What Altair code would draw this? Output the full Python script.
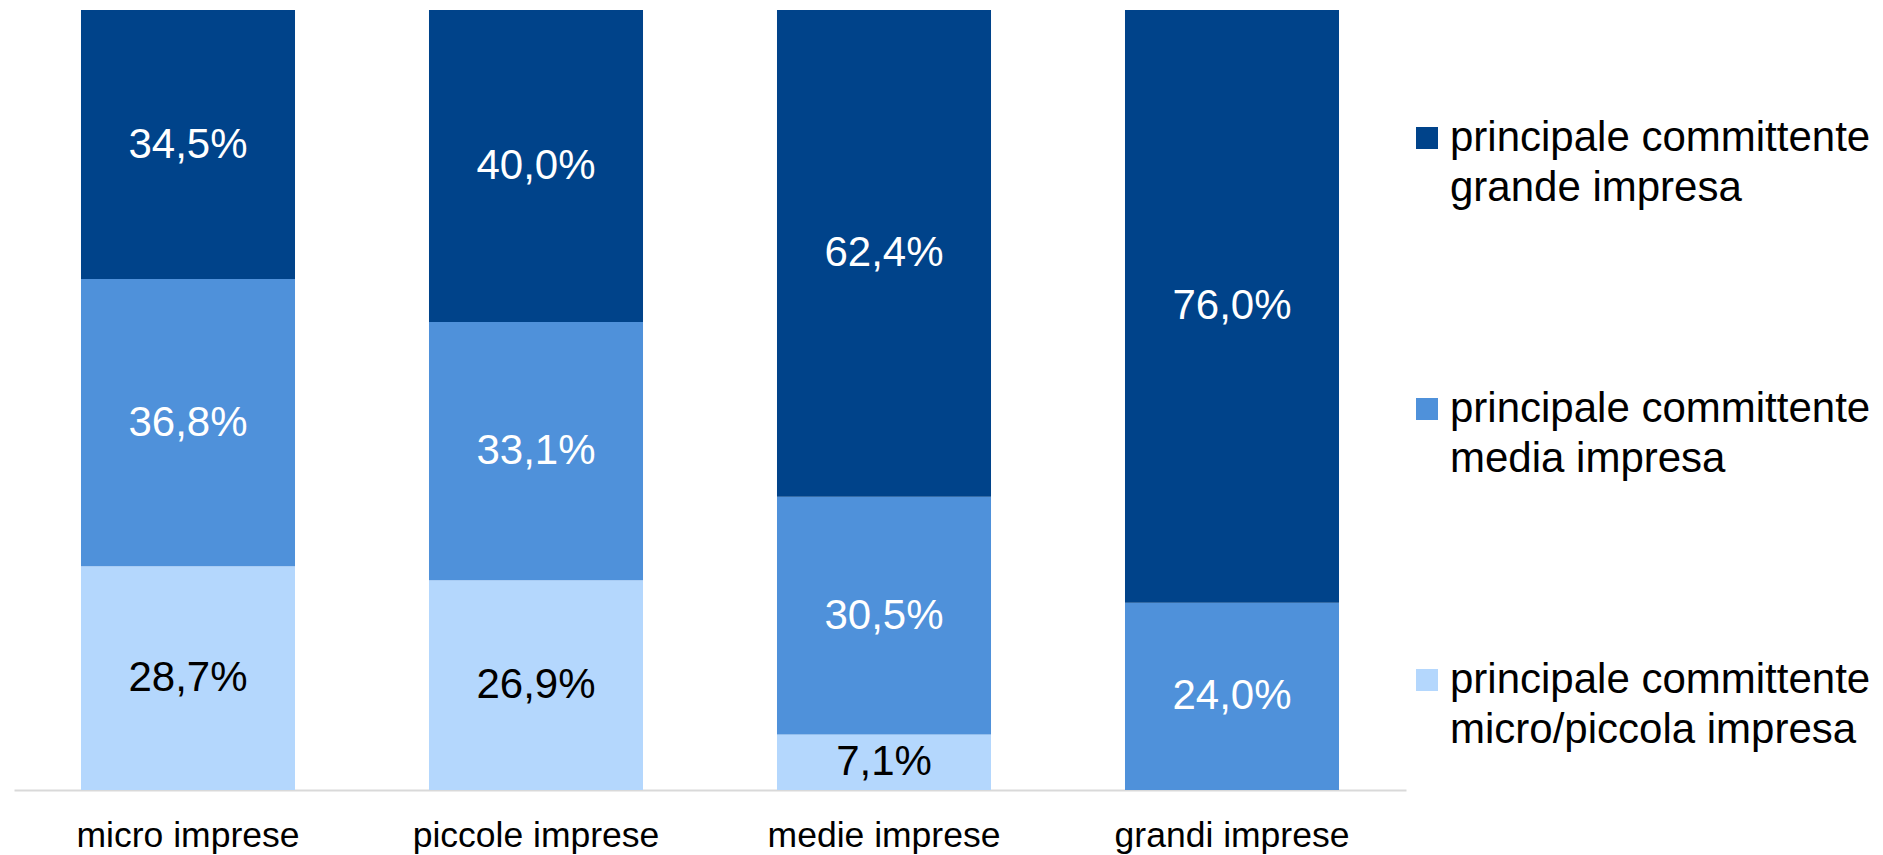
import altair as alt
import pandas as pd

categories = ["micro imprese", "piccole imprese", "medie imprese", "grandi imprese"]
series = [
    "principale committente grande impresa",
    "principale committente media impresa",
    "principale committente micro/piccola impresa",
]
grande = [34.5, 40.0, 62.4, 76.0]
media = [36.8, 33.1, 30.5, 24.0]
micro_piccola = [28.7, 26.9, 7.1, 0.0]

colors = ["#00438a", "#4f91da", "#b4d7fd"]

rows = []
for i, c in enumerate(categories):
    for ord_, (s, vals) in enumerate([(series[2], micro_piccola), (series[1], media), (series[0], grande)]):
        v = vals[i]
        if v <= 0:
            continue
        rows.append({
            "cat": c,
            "serie": s,
            "ord": ord_,
            "value": v,
            "label": f"{v:.1f}%".replace(".", ","),
        })
df = pd.DataFrame(rows)

FONT = "Liberation Sans"

base = alt.Chart(df).transform_stack(
    stack="value",
    groupby=["cat"],
    as_=["y0", "y1"],
    sort=[alt.SortField("ord", order="ascending")],
).transform_calculate(
    mid="(datum.y0 + datum.y1) / 2"
)

x_enc = alt.X(
    "cat:N",
    sort=categories,
    title=None,
    scale=alt.Scale(paddingInner=0.385, paddingOuter=0.1925),
    axis=alt.Axis(
        labelAngle=0,
        labelFontSize=35.5,
        labelFont=FONT,
        labelColor="#000000",
        labelBaseline="alphabetic",
        labelPadding=56,
        labelLimit=0,
        ticks=False,
        tickSize=0,
        domainColor="#d9d9d9",
        domainWidth=2,
        grid=False,
    ),
)

y_scale = alt.Scale(domain=[0, 100], nice=False, zero=True)

bars = base.mark_bar(strokeWidth=0).encode(
    x=x_enc,
    y=alt.Y("y0:Q", scale=y_scale, axis=None),
    y2="y1:Q",
    color=alt.Color(
        "serie:N",
        scale=alt.Scale(domain=series, range=colors),
        legend=alt.Legend(
            title=None,
            orient="none",
            legendX=1392,
            legendY=107,
            symbolType="square",
            symbolSize=484,
            symbolStrokeWidth=0,
            labelFontSize=42,
            labelFont=FONT,
            labelColor="#000000",
            labelLimit=0,
            labelOffset=2,
            labelBaseline="middle",
            rowPadding=179,
            padding=0,
            labelExpr="[substring(datum.label, 0, 22), substring(datum.label, 23)]",
        ),
    ),
)

texts = base.mark_text(fontSize=42, font=FONT, baseline="middle", align="center").encode(
    x=alt.X("cat:N", sort=categories),
    y=alt.Y("mid:Q", scale=y_scale),
    text="label:N",
    color=alt.condition("datum.ord == 0", alt.value("#000000"), alt.value("#ffffff")),
)

chart = alt.layer(bars, texts).properties(
    width=1392,
    height=780,
    autosize=alt.AutoSizeParams(type="none"),
    padding={"left": 6, "top": 2, "right": 469, "bottom": 65},
).configure(
    background="#ffffff",
    view=alt.ViewConfig(strokeWidth=0, stroke="transparent"),
    style={"guide-label": {"lineHeight": 50}},
)

chart.save("out.html", embed_options={"renderer": "svg", "actions": False})
